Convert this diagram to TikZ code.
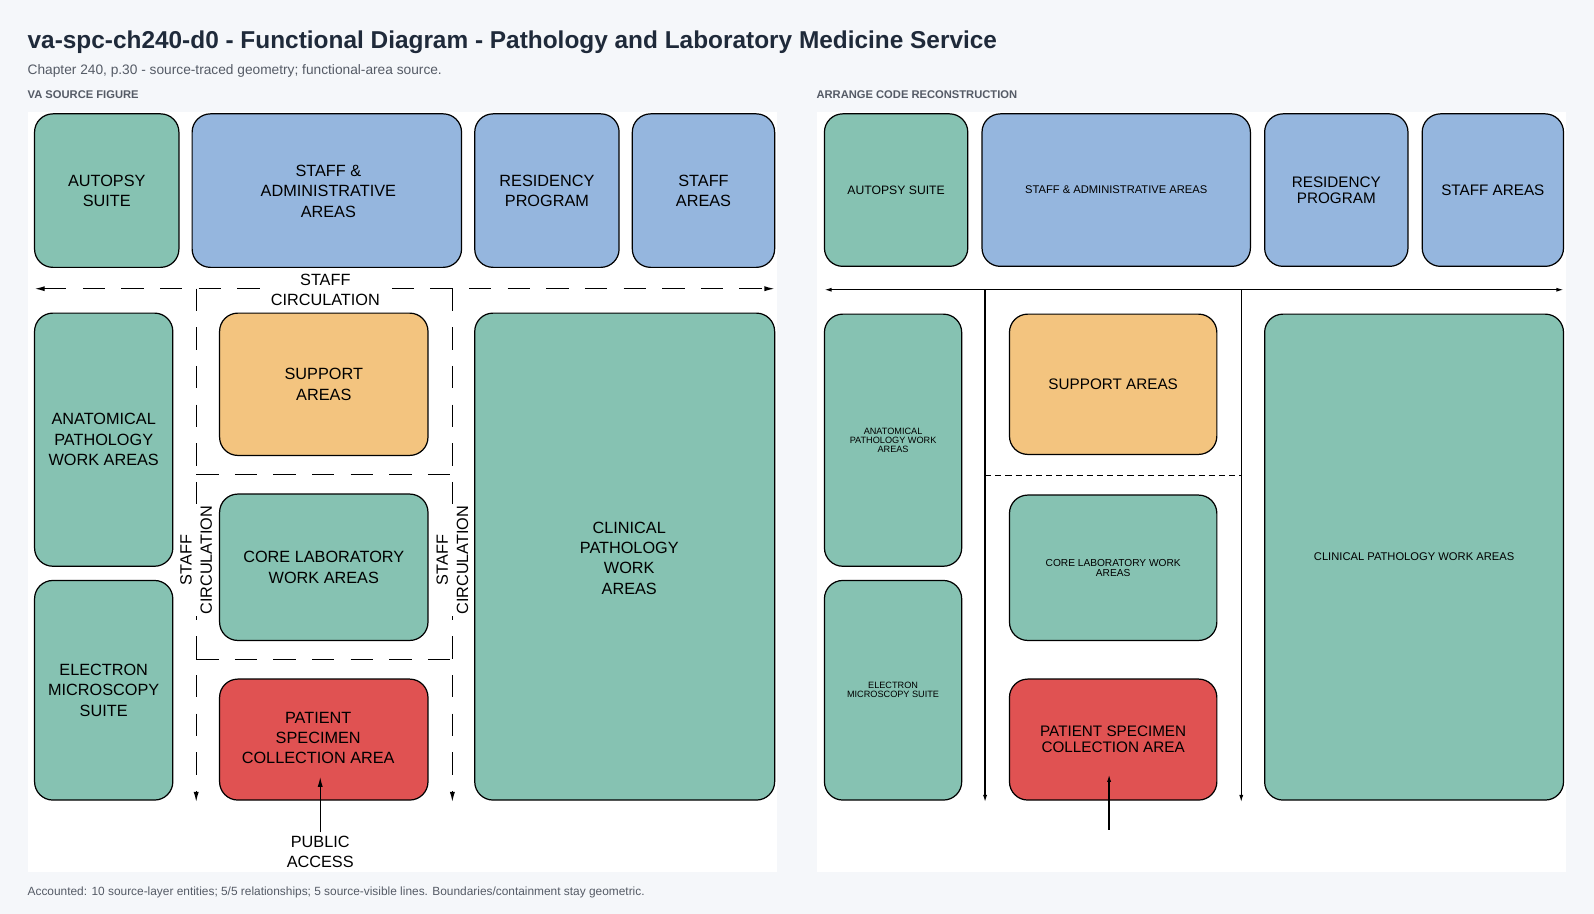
\documentclass[tikz,border=0pt]{standalone}
\usepackage{fontspec}
\setmainfont{Liberation Sans}
\usetikzlibrary{arrows.meta}
\definecolor{gr}{HTML}{86C2B2}\definecolor{bl}{HTML}{95B6DE}
\definecolor{orr}{HTML}{F3C47F}\definecolor{rd}{HTML}{E05252}
\definecolor{pg}{HTML}{F5F7FA}\definecolor{tt}{HTML}{1F2A3A}\definecolor{gy}{HTML}{555B66}
\begin{document}
\begin{tikzpicture}[x=1pt,y=-1pt,
 box/.style={draw=black,line width=1.2pt,rounded corners=18pt,align=center,inner sep=0pt},
 lt/.style={font=\fontsize{16}{20}\selectfont},
 st/.style={font=\fontsize{11}{11}\selectfont},
 mt/.style={font=\fontsize{15}{16}\selectfont},
 dsh/.style={line width=1.2pt,dash pattern=on 22pt off 16pt},
 arr/.style={-{Latex[length=10pt,width=5pt]}},
 arr2/.style={{Latex[length=7pt,width=4pt]}-{Latex[length=7pt,width=4pt]},line width=1.2pt}]
\fill[pg] (0,0) rectangle (1568,899);
\useasboundingbox (0,0) rectangle (1568,899);
\fill[white] (28,110) rectangle (764,858);
\fill[white] (804,110) rectangle (1540,858);
\node[anchor=west,text=tt,font=\fontsize{24}{28}\selectfont\bfseries,inner sep=0pt] (title) at (27,42) {va-spc-ch240-d0 - Functional Diagram - Pathology and Laboratory Medicine Service};
\node[anchor=west,text=gy,font=\fontsize{13.5}{15}\selectfont,inner sep=0pt] (sub) at (27,70) {Chapter 240, p.30 - source-traced geometry; functional-area source.};
\node[anchor=west,text=gy,font=\fontsize{11}{12}\selectfont\bfseries,inner sep=0pt] (h1) at (27,93) {VA SOURCE FIGURE};
\node[anchor=west,text=gy,font=\fontsize{11}{12}\selectfont\bfseries,inner sep=0pt] (h2) at (803,93) {ARRANGE CODE RECONSTRUCTION};
\node[anchor=west,text=gy,font=\fontsize{11.7}{13}\selectfont,inner sep=0pt] (foot) at (27,878) {Accounted: 10 source-layer entities; 5/5 relationships; 5 source-visible lines. Boundaries/containment stay geometric.};
% left
\newcommand{\bx}[7]{\node[box,fill=#6,minimum width=#3-#2,minimum height=#5-#4,#7] (#1) at ({(#2+#3)/2},{(#4+#5)/2}) {};}
\bx{la}{34}{176}{112}{263}{gr}{}\node[lt,align=center] at (la) {AUTOPSY\\SUITE};
\bx{ls}{189}{454}{112}{263}{bl}{}\node[lt,align=center] at (323,188) {STAFF \&\\ADMINISTRATIVE\\AREAS};
\bx{lr}{467}{609}{112}{263}{bl}{}\node[lt,align=center] at (lr) {RESIDENCY\\PROGRAM};
\bx{lst}{622}{762}{112}{263}{bl}{}\node[lt,align=center] at (lst) {STAFF\\AREAS};
\bx{lan}{34}{170}{308}{557}{gr}{}\node[lt,align=center] at (lan) {ANATOMICAL\\PATHOLOGY\\WORK AREAS};
\bx{lem}{34}{170}{571}{787}{gr}{}\node[lt,align=center] at (lem) {ELECTRON\\MICROSCOPY\\SUITE};
\bx{lsu}{216}{421}{308}{448}{orr}{}\node[lt,align=center] at (lsu) {SUPPORT\\AREAS};
\bx{lco}{216}{421}{486}{630}{gr}{}\node[lt,align=center] at (lco) {CORE LABORATORY\\WORK AREAS};
\bx{lpa}{216}{421}{668}{787}{rd}{}\node[lt,align=center] at (313,726) {PATIENT\\SPECIMEN\\COLLECTION AREA};
\bx{lcl}{467}{762}{308}{787}{gr}{}\node[lt,align=center] at (619,549) {CLINICAL\\PATHOLOGY\\WORK\\AREAS};
\coordinate (h0) at (34,284);\coordinate (h1) at (762,284);
\draw[dsh,{Latex[length=10pt,width=5pt]}-{Latex[length=10pt,width=5pt]}] (h0) -- (h1);
\coordinate (v1a) at (193,284);\coordinate (v1b) at (193,789);
\coordinate (v2a) at (445,284);\coordinate (v2b) at (445,789);
\draw[dsh,arr] (v1a) -- (v1b);\draw[dsh,arr] (v2a) -- (v2b);
\coordinate (d1a) at (193,467);\coordinate (d1b) at (445,467);
\coordinate (d2a) at (193,649);\coordinate (d2b) at (445,649);
\draw[dsh] (d1a) -- (d1b);\draw[dsh] (d2a) -- (d2b);
\node[lt,fill=white,align=center,inner sep=1pt] (sc) at (320,285) {STAFF\\CIRCULATION};
\node[lt,fill=white,align=center,inner sep=1pt,rotate=90] (sc1) at (193,551) {STAFF\\CIRCULATION};
\node[lt,fill=white,align=center,inner sep=1pt,rotate=90] (sc2) at (445,551) {STAFF\\CIRCULATION};
\node[lt,align=center] (pub) at (315,838) {PUBLIC\\ACCESS};
\coordinate (pt) at (315,764);
\draw[line width=1.2pt,arr] (pub.north) -- (pt);
% right
\bx{ra}{811}{952}{112}{262}{gr}{}\node[font=\fontsize{12}{14}\selectfont] at (ra) {AUTOPSY SUITE};
\bx{rs}{966}{1230}{112}{262}{bl}{}\node[font=\fontsize{11}{13}\selectfont] at (rs) {STAFF \& ADMINISTRATIVE AREAS};
\bx{rr}{1244}{1385}{112}{262}{bl}{}\node[mt,align=center] at (rr) {RESIDENCY\\PROGRAM};
\bx{rst}{1399}{1538}{112}{262}{bl}{}\node[mt] at (rst) {STAFF AREAS};
\bx{ran}{811}{946}{309}{557}{gr}{}\node[font=\fontsize{9}{9}\selectfont,align=center] at (ran) {ANATOMICAL\\PATHOLOGY WORK\\AREAS};
\bx{rem}{811}{946}{571}{787}{gr}{}\node[font=\fontsize{9}{9}\selectfont,align=center] at (rem) {ELECTRON\\MICROSCOPY SUITE};
\bx{rsu}{993}{1197}{309}{447}{orr}{}\node[mt] at (rsu) {SUPPORT AREAS};
\bx{rco}{993}{1197}{487}{630}{gr}{}\node[font=\fontsize{10}{10}\selectfont,align=center] at (rco) {CORE LABORATORY WORK\\AREAS};
\bx{rpa}{993}{1197}{668}{787}{rd}{}\node[mt,align=center] at (rpa) {PATIENT SPECIMEN\\COLLECTION AREA};
\bx{rcl}{1244}{1538}{309}{787}{gr}{}\node[font=\fontsize{11}{13}\selectfont] at (rcl) {CLINICAL PATHOLOGY WORK AREAS};
\coordinate (r0) at (811,285);\coordinate (r1) at (1538,285);
\draw[arr2] (r0) -- (r1);
\coordinate (rv1a) at (969,285);\coordinate (rv1b) at (969,789);
\coordinate (rv2a) at (1221,285);\coordinate (rv2b) at (1221,789);
\draw[line width=1.2pt,-{Latex[length=7pt,width=4pt]}] (rv1a) -- (rv1b);
\draw[line width=1.2pt,-{Latex[length=7pt,width=4pt]}] (rv2a) -- (rv2b);
\draw[line width=0.9pt,dash pattern=on 6pt off 4pt] (rv1a|-0,468) -- (rv2a|-0,468);
\coordinate (rp0) at (1091,816);\coordinate (rp1) at (1091,762);
\draw[line width=1.2pt,-{Latex[length=7pt,width=4pt]}] (rp0) -- (rp1);
\end{tikzpicture}
\end{document}
